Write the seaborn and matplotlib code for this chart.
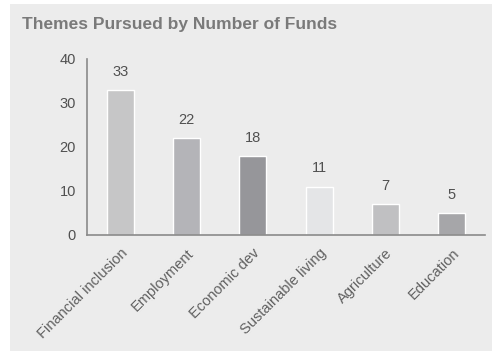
import matplotlib
matplotlib.use("Agg")
import matplotlib.pyplot as plt
import matplotlib.patches as mpatches
import seaborn as sns
import pandas as pd

themes = ["Financial inclusion", "Employment", "Economic dev",
          "Sustainable living", "Agriculture", "Education"]
fund_counts = [33, 22, 18, 11, 7, 5]
bar_colors = ["#c6c6c7", "#b4b4b8", "#96969a", "#e4e5e7", "#c0c0c2", "#a6a6a9"]
y_ticks = [0, 10, 20, 30, 40]

sns.set_theme(style="white")
plt.rcParams["font.family"] = ["Liberation Sans", "DejaVu Sans"]

panel = "#ececec"
fig = plt.figure(figsize=(4.92, 3.51), dpi=100, facecolor="white")
fig.patches.append(mpatches.Rectangle((10 / 492, 0), 1 - 10 / 492, 1 - 4 / 351,
                                      transform=fig.transFigure,
                                      facecolor=panel, edgecolor="none", zorder=-1))
ax = fig.add_axes([87 / 492, 1 - 235 / 351, (485 - 87) / 492, (235 - 59) / 351])
ax.set_facecolor(panel)

df = pd.DataFrame({"theme": themes, "funds": fund_counts})
sns.barplot(data=df, x="theme", y="funds", hue="theme", palette=bar_colors,
            legend=False, width=0.41, saturation=1, ax=ax)

for cont in ax.containers:
    ax.bar_label(cont, padding=8, fontsize=10.5, color="#505050")

ax.set_ylim(0, 40)
ax.set_xlim(-0.5, 5.5)
ax.set_yticks(y_ticks)
ax.set_yticklabels([str(v) for v in y_ticks], fontsize=10.5, color="#505050")
ax.set_xticks(range(len(themes)))
ax.set_xticklabels(themes, rotation=45, ha="right", rotation_mode="anchor",
                   fontsize=10.5, color="#606060")
ax.set_xlabel("")
ax.set_ylabel("")

for side in ["top", "right"]:
    ax.spines[side].set_visible(False)
for side in ["left", "bottom"]:
    ax.spines[side].set_color("#8a8a8a")
    ax.spines[side].set_linewidth(1.2)
ax.tick_params(axis="y", direction="out", length=4, width=1, color="#8a8a8a", pad=4)
ax.tick_params(axis="x", length=0, pad=8)

fig.text(22 / 492, 1 - 24 / 351, "Themes Pursued by Number of Funds",
         fontsize=12.5, fontweight="bold", color="#7a7a7a", va="center", ha="left")

fig.savefig("out.png", dpi=100, facecolor=fig.get_facecolor())
